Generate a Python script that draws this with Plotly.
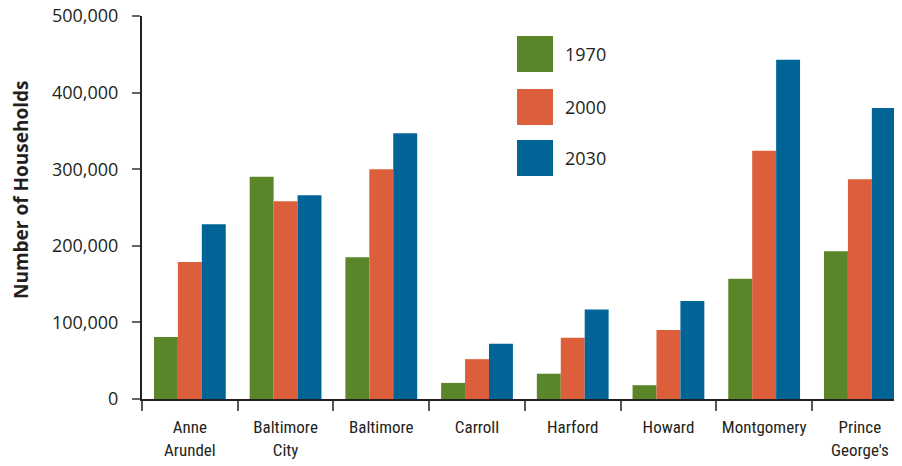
import plotly.graph_objects as go

counties = ["Anne<br>Arundel", "Baltimore<br>City", "Baltimore", "Carroll", "Harford",
            "Howard", "Montgomery", "Prince<br>George's"]
years = ["1970", "2000", "2030"]
h1970 = [81000, 290000, 185000, 21000, 33000, 18000, 157000, 193000]
h2000 = [179000, 258000, 300000, 52000, 80000, 90000, 324000, 287000]
h2030 = [228000, 266000, 347000, 72000, 117000, 128000, 443000, 380000]
colors = ["#5a8629", "#dc5e3b", "#006496"]
ytickvals = [0, 100000, 200000, 300000, 400000, 500000]
yticktext = ["0", "100,000", "200,000", "300,000", "400,000", "500,000"]
ytitle = "Number of Households"

fig = go.Figure()
for name, vals, c in zip(years, [h1970, h2000, h2030], colors):
    fig.add_trace(go.Bar(x=counties, y=vals, name=name, marker_color=c,
                         marker_line_width=0, showlegend=False))

# page body has an 8px margin; figure is offset by (8, 8)
OFF = 8
W, H = 902 - OFF, 466 - OFF
ml, mr, mt, mb = 142 - OFF, 0, 16 - OFF, 466 - 399
pw, ph = W - ml - mr, H - mt - mb


def px(xabs):
    return (xabs - OFF - ml) / pw


def py(yabs):
    return (H - mb - (yabs - OFF)) / ph


fig.update_layout(
    width=W, height=H, margin=dict(l=ml, r=mr, t=mt, b=mb, autoexpand=False),
    paper_bgcolor="white", plot_bgcolor="white",
    barmode="group", bargap=0.25, bargroupgap=0,
    font=dict(family="Open Sans, sans-serif", color="#231f20"),
    xaxis=dict(range=[-0.5, 7.44], tickson="boundaries", ticks="outside", ticklen=10,
               tickcolor="#555", tickwidth=1.5, showline=True, linecolor="#231f20",
               linewidth=2, showgrid=False, automargin=False,
               tickfont=dict(size=17, family="Liberation Sans Narrow, Roboto Condensed, Roboto, sans-serif"),
               ticklabelstandoff=12, ticklabeloverflow="allow"),
    yaxis=dict(range=[0, 500000], tickvals=ytickvals, ticktext=yticktext,
               ticks="outside", ticklen=8, tickcolor="#666", tickwidth=1.5,
               showline=True, linecolor="#231f20", linewidth=2, showgrid=False,
               zeroline=False, tickfont=dict(size=18), ticklabelstandoff=10,
               automargin=False, ticklabeloverflow="allow"),
)

fig.add_annotation(xref="paper", yref="paper", x=px(21), y=py(190),
                   text="<b>" + ytitle + "</b>", textangle=-90, showarrow=False,
                   xanchor="center", yanchor="middle", font=dict(size=19))

# legend drawn as large squares
leg_y = [54, 107, 158]
for name, c, yc in zip(years, colors, leg_y):
    fig.add_shape(type="rect", xref="paper", yref="paper",
                  x0=px(517), x1=px(553), y0=py(yc + 18), y1=py(yc - 18),
                  fillcolor=c, line_width=0)
    fig.add_annotation(xref="paper", yref="paper", x=px(563), y=py(yc),
                       xanchor="left", yanchor="middle",
                       text=name, showarrow=False, font=dict(size=18))

fig.write_html("out.html")
